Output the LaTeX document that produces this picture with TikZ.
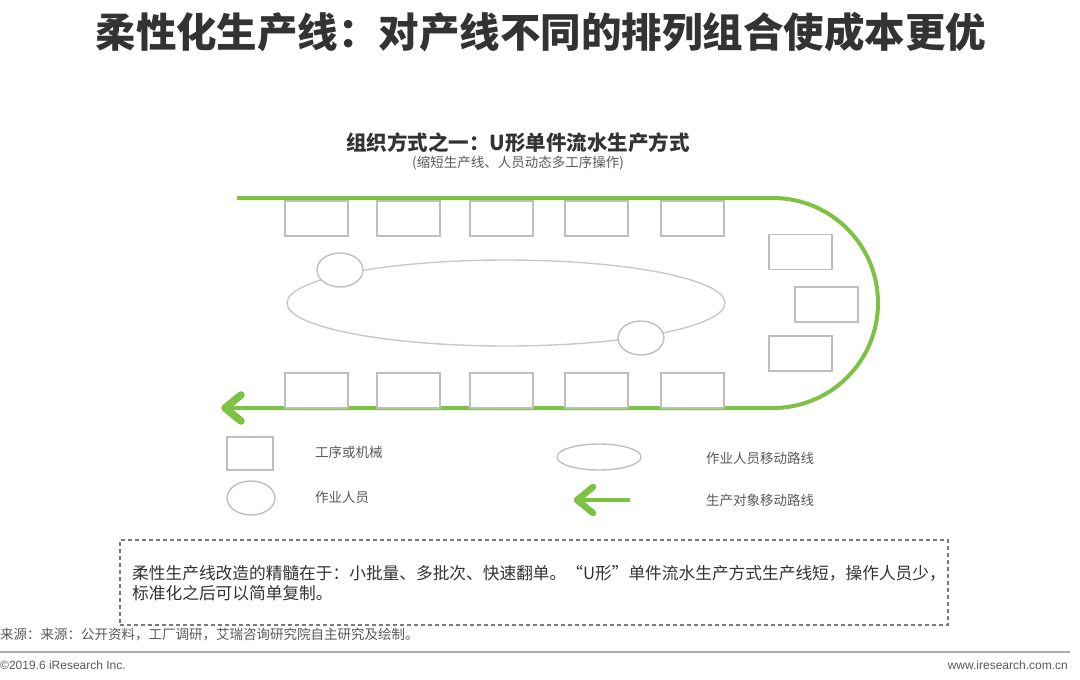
\documentclass[tikz,border=0pt]{standalone}
\usepackage{fontspec}
\setmainfont{Liberation Sans}
\newfontfamily\cjk{Noto Sans CJK SC}
\usetikzlibrary{shapes.geometric}
\definecolor{ugreen}{HTML}{7DC242}
\definecolor{boxgray}{HTML}{BFBFBF}
\definecolor{txtdark}{HTML}{333333}
\definecolor{txtmid}{HTML}{595959}
\tikzset{
  mbox/.style={draw=boxgray, line width=1.4pt, minimum width=63pt, minimum height=35pt, inner sep=0pt, fill=white},
  worker/.style={ellipse, draw=boxgray, line width=1.4pt, minimum width=46pt, minimum height=34pt, inner sep=0pt, fill=white},
  gline/.style={draw=ugreen, line width=4pt},
  ghead/.style={draw=ugreen, line width=7.5pt, line cap=round, line join=round},
  legtxt/.style={anchor=west, inner sep=0pt, font=\cjk\fontsize{13.5}{16}\selectfont, text=txtmid},
}
\begin{document}
\begin{tikzpicture}[x=1pt,y=-1pt]
\useasboundingbox (0,0) rectangle (1080,680);
% title
\node[font=\cjk\bfseries\fontsize{40.5}{44}\selectfont, text=txtdark] (title) at (541,32) {柔性化生产线：对产线不同的排列组合使成本更优};
\node[font=\cjk\bfseries\fontsize{20.5}{24}\selectfont, text=txtdark] (sub) at (518,143) {组织方式之一：U形单件流水生产方式};
\node[font=\cjk\fontsize{13.5}{16}\selectfont, text=txtmid] (sub2) at (518,163) {(缩短生产线、人员动态多工序操作)};
% green U path
\coordinate (gs) at (237,198);
\coordinate (ga) at (773,198);
\coordinate (ge) at (225,408);
\draw[gline] (gs) -- (ga) arc[start angle=-90, end angle=90, radius=105] -- (ge);
\coordinate (h1) at (241,395);
\coordinate (h2) at (241,421);
\draw[ghead] (h1) -- (ge) -- (h2);
% top and bottom boxes
\foreach \i/\x in {1/316.5,2/408.5,3/501.5,4/596.5,5/692.5}{
  \node[mbox] (t\i) at (\x,218.5) {};
  \node[mbox] (b\i) at (\x,390.5) {};
}
\node[mbox] (r1) at (800.5,252) {};
\node[mbox] (r2) at (826.5,304.5) {};
\node[mbox] (r3) at (800.5,353.5) {};
% worker path ellipse
\node[ellipse, draw=boxgray!85, line width=1.4pt, minimum width=438pt, minimum height=86pt, inner sep=0pt] (path) at (506,303) {};
\node[worker] (w1) at (340,270) {};
\node[worker] (w2) at (641,338) {};
% legend
\node[mbox, minimum width=46pt, minimum height=33pt] (lb) at (250,453.5) {};
\node[legtxt] (lbt) at (315,452) {工序或机械};
\node[worker, minimum width=48pt] (lw) at (251,498) {};
\node[legtxt] (lwt) at (315,497) {作业人员};
\node[ellipse, draw=boxgray, line width=1.4pt, minimum width=84pt, minimum height=26pt, inner sep=0pt] (le) at (599,457) {};
\node[legtxt] (let) at (706,458) {作业人员移动路线};
\coordinate (la1) at (630,500);
\coordinate (la0) at (577,500);
\draw[draw=ugreen, line width=4.5pt] (la1) -- (la0);
\coordinate (lh1) at (593,487);
\coordinate (lh2) at (593,513);
\draw[ghead, line width=6.5pt] (lh1) -- (la0) -- (lh2);
\node[legtxt] (lat) at (706,500) {生产对象移动路线};
% dashed note box
\node[draw=txtmid!80, dashed, dash pattern=on 4pt off 3pt, line width=1.2pt, minimum width=828pt, minimum height=85pt, inner sep=0pt] (note) at (534,582.5) {};
\node[anchor=west, inner sep=0pt, align=left, font=\cjk\fontsize{16.7}{20.5}\selectfont, text=txtdark] (notetxt) at (132,583) {柔性生产线改造的精髓在于：小批量、多批次、快速翻单。“U形”单件流水生产方式生产线短，操作人员少，\\标准化之后可以简单复制。};
% source and footer
\node[anchor=west, inner sep=0pt, font=\cjk\fontsize{13.5}{15}\selectfont, text=txtmid] (src) at (0,634) {来源：来源：公开资料，工厂调研，艾瑞咨询研究院自主研究及绘制。};
\coordinate (fl0) at (0,652);
\coordinate (fl1) at (1070,652);
\draw[draw=boxgray!90!black, line width=2pt] (fl0) -- (fl1);
\node[anchor=west, inner sep=0pt, font=\fontsize{12}{14}\selectfont, text=txtmid] (copy) at (0,665) {©2019.6 iResearch Inc.};
\node[anchor=east, inner sep=0pt, font=\fontsize{12}{14}\selectfont, text=txtmid] (web) at (1068,665) {www.iresearch.com.cn};
\end{tikzpicture}
\end{document}
